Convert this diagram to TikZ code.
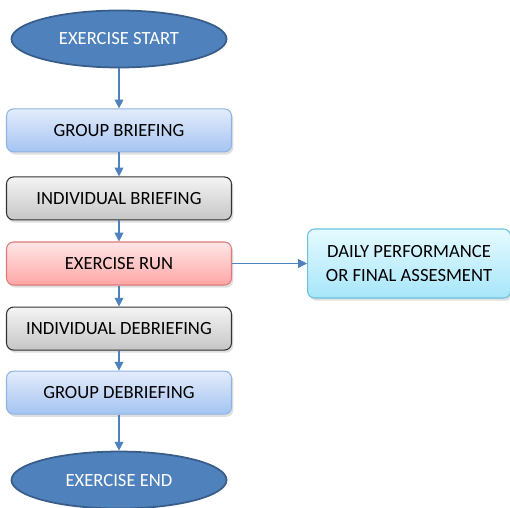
\documentclass[tikz,border=0pt]{standalone}
\usepackage{fontspec}
\setmainfont{Carlito}
\usepackage{xcolor}
\usetikzlibrary{arrows.meta,positioning,shapes.geometric,shadows}

\definecolor{ovalblue}{HTML}{4F81BD}
\definecolor{ovalline}{HTML}{385D8A}
\definecolor{arrblue}{HTML}{4F81BD}
\definecolor{bluetop}{HTML}{E3ECFB}
\definecolor{bluebot}{HTML}{A5C4F2}
\definecolor{blueline}{HTML}{8EB4E3}
\definecolor{graytop}{HTML}{F4F4F4}
\definecolor{graybot}{HTML}{C6C6C6}
\definecolor{redtop}{HTML}{FFE6E6}
\definecolor{redbot}{HTML}{FFA6A6}
\definecolor{redline}{HTML}{E07A7A}
\definecolor{cyantop}{HTML}{E6FAFF}
\definecolor{cyanbot}{HTML}{A6E6FA}
\definecolor{cyanline}{HTML}{6CC0DC}

\begin{document}
\begin{tikzpicture}[
  font=\fontsize{10.6}{12.5}\selectfont,
  shade/.style={drop shadow={shadow xshift=1pt,shadow yshift=-1.5pt,opacity=0.25}},
  oval/.style={draw=ovalline,line width=1pt,ellipse,fill=ovalblue,text=white,minimum width=4.3cm,minimum height=1.14cm},
  box/.style={draw,rounded corners=4pt,line width=0.6pt,minimum width=4.5cm,minimum height=0.86cm,align=center,shade},
  bluebox/.style={box,draw=blueline,top color=bluetop,bottom color=bluebot},
  graybox/.style={box,draw=black!80,top color=graytop,bottom color=graybot},
  redbox/.style={box,draw=redline,top color=redtop,bottom color=redbot},
  cyanbox/.style={box,draw=cyanline,top color=cyantop,bottom color=cyanbot,minimum width=4.06cm,minimum height=1.38cm,font=\fontsize{10.6}{14}\selectfont},
  arr/.style={-{Triangle[length=5pt,width=5pt]},draw=arrblue,line width=0.6pt}
]
  \useasboundingbox (0,0) rectangle (10.2,-10.14);

  \node[oval] (start) at (2.38,-0.78) {EXERCISE START};
  \node[bluebox, below=0.8cm of start] (gb) {GROUP BRIEFING};
  \node[graybox, below=0.48cm of gb] (ib) {INDIVIDUAL BRIEFING};
  \node[redbox, below=0.42cm of ib] (run) {EXERCISE RUN};
  \node[graybox, below=0.42cm of run] (id) {INDIVIDUAL DEBRIEFING};
  \node[bluebox, below=0.40cm of id] (gd) {GROUP DEBRIEFING};
  \node[oval, below=0.72cm of gd] (end) {EXERCISE END};

  \node[cyanbox, right=1.5cm of run] (perf) {DAILY PERFORMANCE\\OR FINAL ASSESMENT};

  \draw[arr] (start) -- (gb);
  \draw[arr] (gb) -- (ib);
  \draw[arr] (ib) -- (run);
  \draw[arr] (run) -- (id);
  \draw[arr] (id) -- (gd);
  \draw[arr] (gd) -- (end);
  \draw[arr] (run) -- (perf);
\end{tikzpicture}
\end{document}
